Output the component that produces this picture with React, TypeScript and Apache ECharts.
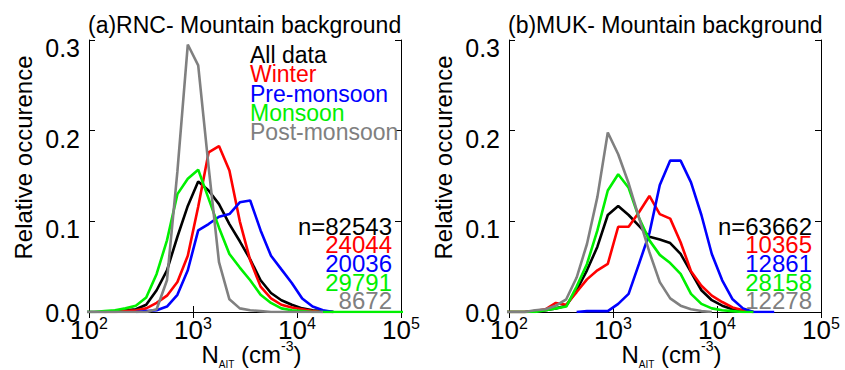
import React, { useEffect, useRef } from "react";
import * as echarts from "echarts";

// Bin centres of the log-spaced size distribution (cm^-3)
const binCenters = [
  89, 112, 141, 178, 224, 282, 355, 447, 562, 708, 891, 1122, 1413, 1778, 2239, 2818,
  3548, 4467, 5623, 7079, 8913, 11220, 14125, 17783, 22387, 28184, 35481, 44668, 56234,
  70795, 89125, 112202,
];

const seriesNames = ["All data", "Winter", "Pre-monsoon", "Monsoon", "Post-monsoon"];
const seriesColors = ["#000000", "#ff0000", "#0000ff", "#00f000", "#808080"];

// (a) RNC
const rncAll = [0, 0, 0, 0.001, 0.002, 0.003, 0.008, 0.024, 0.046, 0.083, 0.117, 0.144, 0.134, 0.119, 0.097, 0.078, 0.058, 0.035, 0.021, 0.013, 0.008, 0.004, 0.002, 0.001, 0, null, null, null, null, null, null, null];
const rncWinter = [null, null, 0, 0, 0.001, 0.002, 0.004, 0.01, 0.018, 0.033, 0.062, 0.116, 0.176, 0.183, 0.156, 0.1, 0.057, 0.028, 0.015, 0.008, 0.005, 0.003, 0.001, 0, 0, null, null, null, null, null, null, null];
const rncPre = [null, null, null, null, null, 0, 0.001, 0.002, 0.006, 0.019, 0.046, 0.09, 0.097, 0.105, 0.108, 0.121, 0.123, 0.09, 0.062, 0.047, 0.032, 0.015, 0.006, 0.002, 0, null, null, null, null, null, null, null];
const rncMonsoon = [0, 0, 0.001, 0.002, 0.004, 0.007, 0.016, 0.042, 0.079, 0.13, 0.147, 0.157, 0.125, 0.093, 0.064, 0.049, 0.035, 0.019, 0.01, 0.004, 0.002, 0.001, 0, 0, 0, 0, 0, 0, 0, 0, 0, 0];
const rncPost = [0, 0, 0, 0, 0, 0, 0, 0.003, 0.035, 0.155, 0.295, 0.272, 0.16, 0.055, 0.014, 0.004, 0.002, 0.001, 0, 0, 0, 0, 0, 0, null, null, null, null, null, null, null, null];

// (b) MUK
const mukAll = [0, 0, 0, 0.001, 0.002, 0.004, 0.007, 0.024, 0.046, 0.072, 0.107, 0.117, 0.107, 0.095, 0.083, 0.08, 0.076, 0.064, 0.044, 0.024, 0.013, 0.007, 0.003, 0.001, 0, null, null, null, null, null, null, null];
const mukWinter = [0, 0, 0, 0.001, 0.003, 0.01, 0.008, 0.022, 0.036, 0.046, 0.053, 0.094, 0.094, 0.11, 0.128, 0.108, 0.103, 0.077, 0.045, 0.029, 0.018, 0.011, 0.005, 0.002, 0, null, null, null, null, null, null, null];
const mukPre = [null, null, null, null, null, null, null, 0, 0.001, 0.001, 0.001, 0.009, 0.02, 0.053, 0.087, 0.14, 0.167, 0.167, 0.143, 0.107, 0.064, 0.035, 0.014, 0.004, 0, 0, 0, null, null, null, null, null];
const mukMonsoon = [0, 0, 0, 0, 0.002, 0.004, 0.006, 0.028, 0.053, 0.09, 0.134, 0.152, 0.137, 0.104, 0.079, 0.063, 0.054, 0.042, 0.02, 0.009, 0.004, 0.002, 0.001, 0, 0, null, null, null, null, null, null, null];
const mukPost = [0, 0, 0, 0.002, 0.003, 0.007, 0.014, 0.038, 0.075, 0.127, 0.198, 0.174, 0.142, 0.104, 0.066, 0.033, 0.015, 0.007, 0.003, 0.001, 0, null, null, null, null, null, null, null, null, null, null, null];

const rncCounts = [82543, 24044, 20036, 29791, 8672];
const mukCounts = [63662, 10365, 12861, 28158, 12278];

const panelTitles = ["(a)RNC- Mountain background", "(b)MUK- Mountain background"];
const xTickExponents = [2, 3, 4, 5];
const yTicks = [0, 0.1, 0.2, 0.3];
const yAxisTitle = "Relative occurence";

const FONT = "Liberation Sans";
const BLACK = "#000";

const panelLeft = [89, 509];
const plotTop = 40;
const plotW = 312;
const plotH = 272;

function toPairs(vals: (number | null)[]) {
  const out: [number, number][] = [];
  vals.forEach((v, i) => {
    if (v !== null) out.push([binCenters[i], v]);
  });
  return out;
}

function xAxisBottom(gridIndex: number) {
  return {
    type: "log",
    logBase: 10,
    gridIndex,
    min: 100,
    max: 100000,
    position: "bottom",
    axisLine: { show: true, lineStyle: { color: BLACK, width: 1 } },
    axisTick: { show: true, inside: true, length: 6, lineStyle: { color: BLACK } },
    minorTick: { show: false },
    splitLine: { show: false },
    axisLabel: {
      show: true,
      margin: 3,
      showMinLabel: true,
      showMaxLabel: true,
      hideOverlap: false,
      formatter: (v: number) => {
        const e = Math.round(Math.log10(v));
        const lab = xTickExponents.find((x) => x === e);
        return `{b|10}{s|${lab}}`;
      },
      rich: {
        b: { fontSize: 26, lineHeight: 30, fontFamily: FONT, color: BLACK, verticalAlign: "middle" },
        s: { fontSize: 16, lineHeight: 19.6, fontFamily: FONT, color: BLACK, verticalAlign: "top" },
      },
    },
    name: "{n|N}{sub|AIT}{r| (cm}{sup|-3}{r|)}",
    nameLocation: "middle",
    nameGap: 27,
    nameMoveOverlap: false,
    nameTextStyle: {
      padding: [0, 0, 0, 13],
      verticalAlign: "top",
      rich: {
        n: { fontSize: 24, lineHeight: 30, fontFamily: FONT, color: BLACK, verticalAlign: "middle" },
        r: { fontSize: 24, lineHeight: 30, fontFamily: FONT, color: BLACK, verticalAlign: "middle" },
        sub: { fontSize: 10, lineHeight: 18.4, fontFamily: FONT, color: BLACK, verticalAlign: "bottom" },
        sup: { fontSize: 14, lineHeight: 3, fontFamily: FONT, color: BLACK, verticalAlign: "top" },
      },
    },
  };
}

function xAxisTop(gridIndex: number) {
  return {
    type: "log",
    logBase: 10,
    gridIndex,
    min: 100,
    max: 100000,
    position: "top",
    axisLine: { show: true, lineStyle: { color: BLACK, width: 1 } },
    axisTick: { show: true, inside: true, length: 6, lineStyle: { color: BLACK } },
    minorTick: { show: false },
    splitLine: { show: false },
    axisLabel: { show: false },
  };
}

function yAxisLeft(gridIndex: number) {
  return {
    type: "value",
    gridIndex,
    min: yTicks[0],
    max: yTicks[yTicks.length - 1],
    interval: 0.1,
    position: "left",
    axisLine: { show: true, lineStyle: { color: BLACK, width: 1 } },
    axisTick: { show: true, inside: true, length: 6, lineStyle: { color: BLACK } },
    splitLine: { show: false },
    axisLabel: {
      show: true,
      margin: 9,
      showMinLabel: true,
      showMaxLabel: true,
      hideOverlap: false,
      formatter: (v: number) => (Math.abs(v) < 1e-9 ? `{z|${v.toFixed(1)}}` : `{a|${v.toFixed(1)}}`),
      rich: {
        a: { fontSize: 25, lineHeight: 25, padding: [16, 0, 0, 0], fontFamily: FONT, color: BLACK },
        z: { fontSize: 25, lineHeight: 25, padding: [2, 0, 0, 0], fontFamily: FONT, color: BLACK },
      },
    },
    name: yAxisTitle,
    nameLocation: "middle",
    nameGap: 54,
    nameMoveOverlap: false,
    nameTextStyle: {
      fontSize: 24,
      lineHeight: 24,
      fontFamily: FONT,
      color: BLACK,
      padding: [0, 0, 0, 37],
    },
  };
}

function yAxisRight(gridIndex: number) {
  return {
    type: "value",
    gridIndex,
    min: yTicks[0],
    max: yTicks[yTicks.length - 1],
    interval: 0.1,
    position: "right",
    axisLine: { show: true, lineStyle: { color: BLACK, width: 1 } },
    axisTick: { show: true, inside: true, length: 6, lineStyle: { color: BLACK } },
    splitLine: { show: false },
    axisLabel: { show: false },
  };
}

const panels = [
  [rncAll, rncWinter, rncPre, rncMonsoon, rncPost],
  [mukAll, mukWinter, mukPre, mukMonsoon, mukPost],
];
const panelCounts = [rncCounts, mukCounts];

export default function App() {
  const ref = useRef<HTMLDivElement>(null);
  useEffect(() => {
    if (!ref.current) return;
    const chart = echarts.init(ref.current, null, { renderer: "svg" });

    const series: any[] = [];
    panels.forEach((panel, p) => {
      panel.forEach((vals, i) => {
        series.push({
          type: "line",
          name: seriesNames[i],
          xAxisIndex: p * 2,
          yAxisIndex: p * 2,
          data: toPairs(vals),
          showSymbol: false,
          symbol: "none",
          clip: true,
          lineStyle: { color: seriesColors[i], width: 2.6 },
          itemStyle: { color: seriesColors[i] },
          z: 2 + i,
        });
      });
    });

    const graphic: any[] = [];
    panelCounts.forEach((counts, p) => {
      counts.forEach((n, i) => {
        graphic.push({
          type: "text",
          x: panelLeft[p] + 303,
          y: 226 + i * 18.7,
          z: 20,
          style: {
            text: i === 0 ? `n=${n}` : `${n}`,
            fill: seriesColors[i],
            fontSize: 24,
            fontFamily: FONT,
            align: "right",
            verticalAlign: "middle",
          },
        });
      });
    });

    chart.setOption({
      animation: false,
      backgroundColor: "#ffffff",
      textStyle: { fontFamily: FONT },
      title: panelTitles.map((t, p) => ({
        text: t,
        left: panelLeft[p] - 1,
        top: 13.8,
        padding: 0,
        textStyle: { fontSize: 23, lineHeight: 23, fontWeight: "normal", color: BLACK, fontFamily: FONT },
      })),
      legend: {
        show: true,
        orient: "vertical",
        left: 245,
        top: 43.5,
        padding: 0,
        itemWidth: 0,
        itemHeight: 0,
        itemGap: -3.7,
        icon: "rect",
        selectedMode: false,
        itemStyle: { opacity: 0 },
        lineStyle: { opacity: 0 },
        textStyle: { fontSize: 23, lineHeight: 23, fontFamily: FONT },
        data: seriesNames.map((n, i) => ({ name: n, textStyle: { color: seriesColors[i] } })),
      },
      grid: panelLeft.map((l) => ({
        left: l,
        top: plotTop,
        width: plotW,
        height: plotH,
        show: false,
        containLabel: false,
        outerBoundsMode: "none",
      })),
      xAxis: [xAxisBottom(0), xAxisTop(0), xAxisBottom(1), xAxisTop(1)],
      yAxis: [yAxisLeft(0), yAxisRight(0), yAxisLeft(1), yAxisRight(1)],
      series,
      graphic,
    });
    return () => chart.dispose();
  }, []);
  return (
    <div
      ref={ref}
      style={{ position: "fixed", left: 0, top: 0, width: 845, height: 370, background: "#fff" }}
    />
  );
}
